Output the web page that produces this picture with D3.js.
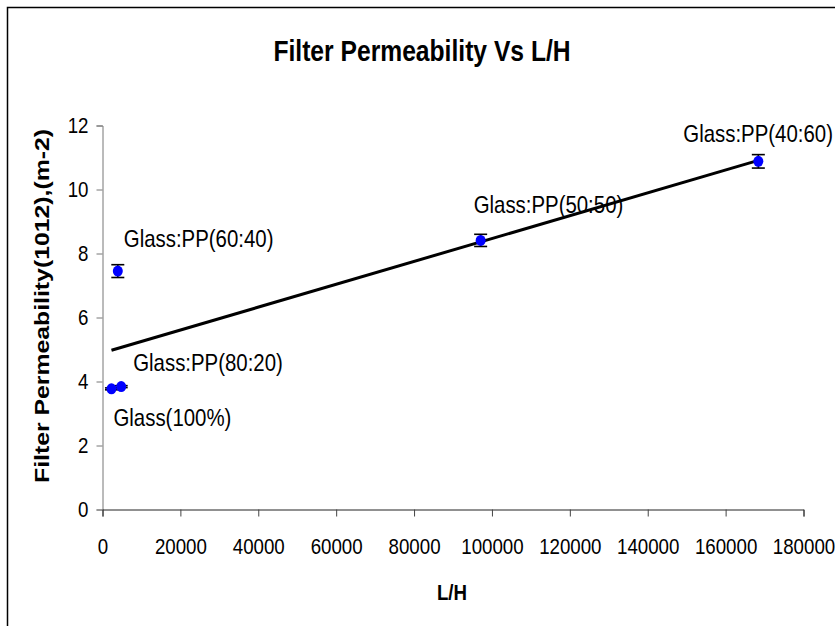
<html lang='en'>
<head>
   <meta charset='UTF-8'>
   <script src='https://d3js.org/d3.v7.min.js'></script>
   <style>
      body{
         margin: 0;
         padding: 0;
         background-color: white;
      }
      text{
         font-family: 'Liberation Sans', Arial, sans-serif;
         fill: black;
      }
   </style>
</head>
<body>
   <div id='tavola'></div>
   <script>
      // data
      var labels = ['Glass(100%)', 'Glass:PP(80:20)', 'Glass:PP(60:40)', 'Glass:PP(50:50)', 'Glass:PP(40:60)'];
      var lh = [2300, 4800, 3930, 97100, 168400];
      var perm = [3.77, 3.84, 7.45, 8.41, 10.88];
      var err = [0.03, 0.03, 0.2, 0.19, 0.21];
      var xTicks = [0, 20000, 40000, 60000, 80000, 100000, 120000, 140000, 160000, 180000];
      var yTicks = [0, 2, 4, 6, 8, 10, 12];

      // where each label sits relative to its point
      var labelOffset = [[2, 37], [12, -16], [6, -24], [-7, -27], [-75, -19]];

      var W = 835, H = 626;
      var sx = 0.85; // text in the picture is narrow

      var svg = d3.select('#tavola').append('svg')
         .attr('width', W)
         .attr('height', H);

      // chart frame, runs off the right and bottom edge
      svg.append('rect')
         .attr('x', 7.5).attr('y', 7.5)
         .attr('width', 900).attr('height', 700)
         .attr('fill', 'white')
         .attr('stroke', 'black')
         .attr('stroke-width', 1.5);

      var x = d3.scaleLinear().domain([0, 180000]).range([102.5, 803.5]);
      var y = d3.scaleLinear().domain([0, 12]).range([509.5, 125.5]);

      // y axis
      var gy = svg.append('g')
         .attr('transform', 'translate(' + x(0) + ',0)')
         .call(d3.axisLeft(y).tickValues(yTicks).tickSize(6).tickFormat(d3.format('d')));
      gy.select('.domain').attr('stroke', '#777');
      gy.selectAll('.tick line').attr('stroke', '#777');
      gy.selectAll('.tick text')
         .attr('font-size', 22)
         .attr('font-family', "'Liberation Sans', Arial, sans-serif")
         .attr('fill', 'black')
         .attr('x', -14 / sx)
         .attr('transform', 'scale(' + sx + ',1)');

      // x axis
      var gx = svg.append('g')
         .attr('transform', 'translate(0,' + y(0) + ')')
         .call(d3.axisBottom(x).tickValues(xTicks).tickSize(7).tickSizeOuter(7).tickFormat(d3.format('d')));
      gx.select('.domain').attr('stroke', '#222');
      gx.selectAll('.tick line').attr('stroke', '#444');
      gx.selectAll('.tick text')
         .attr('font-size', 22)
         .attr('font-family', "'Liberation Sans', Arial, sans-serif")
         .attr('fill', 'black')
         .attr('y', 37)
         .attr('dy', '0.36em')
         .attr('transform', 'scale(' + sx + ',1)');

      // linear trend line over the data range
      var n = lh.length;
      var mx = d3.mean(lh), my = d3.mean(perm);
      var sxy = 0, sxx = 0;
      for (let i = 0; i < n; i++) {
         sxy += (lh[i] - mx) * (perm[i] - my);
         sxx += (lh[i] - mx) * (lh[i] - mx);
      }
      var slope = sxy / sxx;
      var icpt = my - slope * mx;
      var x0 = d3.min(lh), x1 = d3.max(lh);
      svg.append('line')
         .attr('x1', x(x0)).attr('y1', y(icpt + slope * x0))
         .attr('x2', x(x1)).attr('y2', y(icpt + slope * x1))
         .attr('stroke', 'black')
         .attr('stroke-width', 3);

      // error bars
      var eb = svg.append('g').attr('stroke', 'black').attr('stroke-width', 1.6);
      for (let i = 0; i < n; i++) {
         var cx = x(lh[i]);
         eb.append('line')
            .attr('x1', cx).attr('x2', cx)
            .attr('y1', y(perm[i] - err[i])).attr('y2', y(perm[i] + err[i]));
         eb.append('line')
            .attr('x1', cx - 6.5).attr('x2', cx + 6.5)
            .attr('y1', y(perm[i] - err[i])).attr('y2', y(perm[i] - err[i]));
         eb.append('line')
            .attr('x1', cx - 6.5).attr('x2', cx + 6.5)
            .attr('y1', y(perm[i] + err[i])).attr('y2', y(perm[i] + err[i]));
      }

      // points
      svg.append('g').selectAll('ellipse')
         .data(lh)
         .enter().append('ellipse')
         .attr('cx', function(d) { return x(d); })
         .attr('cy', function(d, i) { return y(perm[i]); })
         .attr('rx', 5)
         .attr('ry', 5.5)
         .attr('fill', '#0000ff');

      // point labels
      for (let i = 0; i < n; i++) {
         var lx = x(lh[i]) + labelOffset[i][0];
         var ly = y(perm[i]) + labelOffset[i][1];
         svg.append('text')
            .attr('transform', 'translate(' + lx + ',' + ly + ') scale(' + sx + ',1)')
            .attr('font-size', 24)
            .text(labels[i]);
      }

      // titles
      svg.append('text')
         .attr('transform', 'translate(422,61) scale(' + sx + ',1)')
         .attr('text-anchor', 'middle')
         .attr('font-size', 29)
         .attr('font-weight', 'bold')
         .text('Filter Permeability Vs L/H');

      svg.append('text')
         .attr('transform', 'translate(452,600) scale(' + sx + ',1)')
         .attr('text-anchor', 'middle')
         .attr('font-size', 22)
         .attr('font-weight', 'bold')
         .text('L/H');

      svg.append('text')
         .attr('transform', 'translate(49,306) rotate(-90) scale(1.24,1)')
         .attr('text-anchor', 'middle')
         .attr('font-size', 20)
         .attr('font-weight', 'bold')
         .text('Filter Permeability(1012),(m-2)');
   </script>
</body>
</html>
